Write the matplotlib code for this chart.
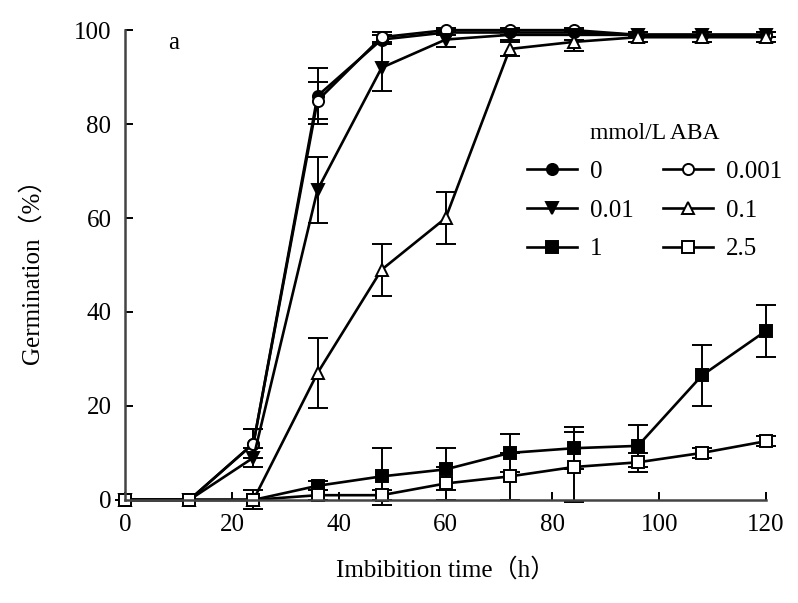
import matplotlib.pyplot as plt
import numpy as np
from matplotlib.lines import Line2D

plt.rcParams['font.family'] = ['Liberation Serif', 'DejaVu Serif']

hours = [0, 12, 24, 36, 48, 60, 72, 84, 96, 108, 120]
labels = ['0', '0.001', '0.01', '0.1', '1', '2.5']

g_0 = [0, 0, 12, 86, 98, 99.5, 99.5, 99.5, 99, 99, 99]
g_0001 = [0, 0, 12, 85, 98.5, 100, 100, 100, 99, 99, 99]
g_001 = [0, 0, 9, 66, 92, 98, 99, 99, 99, 99, 99]
g_01 = [0, 0, 0, 27, 49, 60, 96, 97.5, 98.5, 98.5, 98.5]
g_1 = [0, 0, 0, 3, 5, 6.5, 10, 11, 11.5, 26.5, 36]
g_25 = [0, 0, 0, 1, 1, 3.5, 5, 7, 8, 10, 12.5]

e_0 = [0, 0, 3, 6, 1, 0.5, 0.5, 0.5, 0.5, 0.5, 0.5]
e_0001 = [0, 0, 3, 4, 1, 0.5, 0.5, 0.5, 0.5, 0.5, 0.5]
e_001 = [0, 0, 2, 7, 5, 1.5, 1, 1, 0.5, 0.5, 0.5]
e_01 = [0, 0, 2, 7.5, 5.5, 5.5, 1.5, 2, 1, 1, 1]
e_1 = [0, 0, 0, 1, 6, 4.5, 4, 4.5, 4.5, 6.5, 5.5]
e_25 = [0, 0, 0, 1, 1, 3.5, 5, 7.5, 2, 1, 1]

series = [g_0, g_0001, g_001, g_01, g_1, g_25]
errors = [e_0, e_0001, e_001, e_01, e_1, e_25]
markers = ['o', 'o', 'v', '^', 's', 's']
faces = ['black', 'white', 'black', 'white', 'black', 'white']

fig, ax = plt.subplots(figsize=(7.98, 6.03), dpi=100)
fig.subplots_adjust(left=0.157, right=0.960, top=0.950, bottom=0.171)

handles = []
for g, e, m, fc, lab in zip(series, errors, markers, faces, labels):
    ax.errorbar(hours, g, yerr=e, color='black', lw=1.9, marker=m, ms=8,
                mfc=fc, mec='black', mew=1.4, capsize=7, elinewidth=1.4,
                capthick=1.4, clip_on=False)
    handles.append(Line2D([], [], color='black', lw=1.9, marker=m, ms=8,
                          mfc=fc, mec='black', mew=1.4, label=lab))

ax.set_xlim(0, 120)
ax.set_ylim(0, 100)
ax.set_xticks(np.arange(0, 121, 20))
ax.set_yticks(np.arange(0, 101, 20))
ax.tick_params(direction='in', length=6, width=1.4, labelsize=18, pad=10)
for s in ['top', 'right']:
    ax.spines[s].set_visible(False)
for s in ['left', 'bottom']:
    ax.spines[s].set_linewidth(1.8)
    ax.spines[s].set_color('#444444')

ax.set_xlabel('Imbibition time（h）', fontsize=18, labelpad=16,
              family=['Liberation Serif', 'Noto Sans CJK SC'])
ax.set_ylabel('Germination（%）', fontsize=18, labelpad=22,
              family=['Liberation Serif', 'Noto Sans CJK SC'])
ax.text(8, 96, 'a', fontsize=18)

# matplotlib fills legend columns first; reorder so rows read 0, 0.001 / 0.01, 0.1 / 1, 2.5
order = [0, 2, 4, 1, 3, 5]
leg = ax.legend([handles[i] for i in order], [labels[i] for i in order],
                ncol=2, loc='upper right', bbox_to_anchor=(1.06, 0.85),
                frameon=False, fontsize=18, title='mmol/L ABA',
                title_fontsize=17, handlelength=2.0, columnspacing=1.2,
                labelspacing=0.65, handletextpad=0.5)

plt.savefig('out.png', dpi=100)
